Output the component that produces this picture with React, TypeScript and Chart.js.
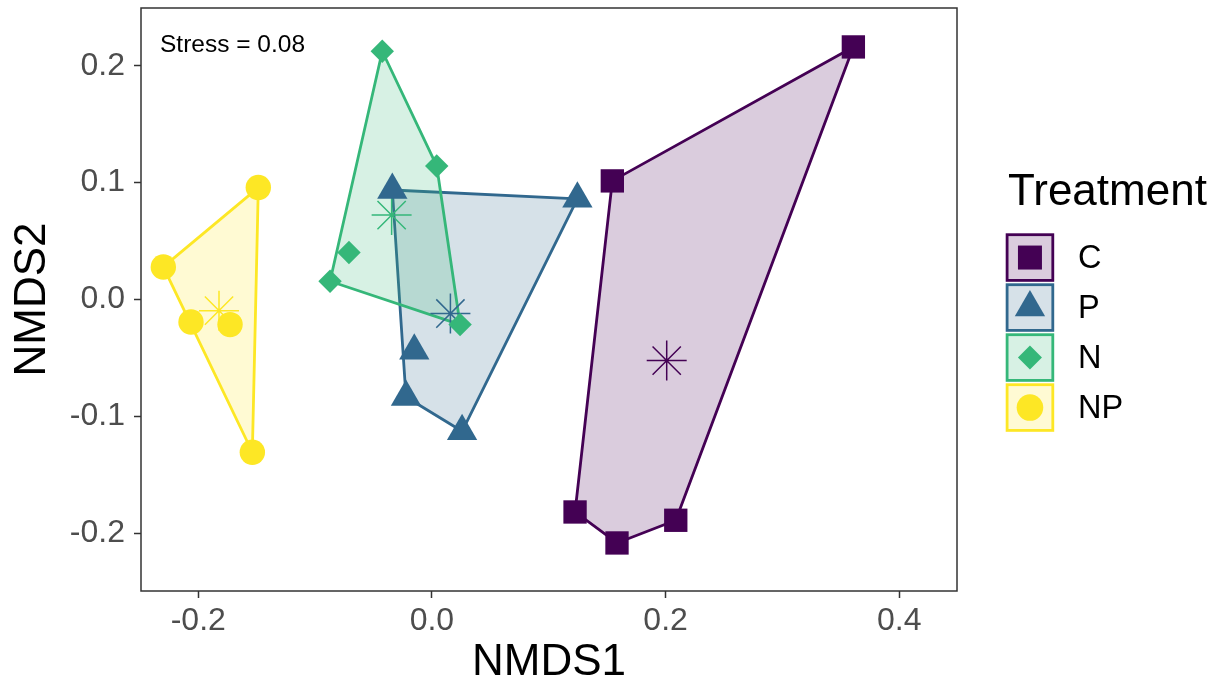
import React, { useEffect, useRef } from 'react';
import { Chart, registerables } from 'chart.js';

Chart.register(...registerables);

// ---------------- data ----------------
const treatments = ['C', 'P', 'N', 'NP'];
const colors = ['#440154', '#31688E', '#35B779', '#FDE725'];
const fills = ['rgba(68,1,84,0.2)', 'rgba(49,104,142,0.2)', 'rgba(53,183,121,0.2)', 'rgba(253,231,37,0.2)'];
const pointStyles = ['rect', 'triangle', 'rectRot', 'circle'];
const pointRadii = [16.5, 17.5, 11.7, 12.7];

const cX = [0.3607, 0.1544, 0.1225, 0.1584, 0.2087];
const cY = [0.2161, 0.1015, -0.1817, -0.2082, -0.1888];
const pX = [-0.0339, 0.1245, -0.0151, -0.0222, 0.0258];
const pY = [0.0937, 0.0862, -0.0437, -0.0833, -0.1127];
const nX = [-0.0425, 0.0041, -0.0710, -0.0872, 0.0241];
const nY = [0.2124, 0.1143, 0.0402, 0.0157, -0.0214];
const npX = [-0.1486, -0.2299, -0.2062, -0.1728, -0.1537];
const npY = [0.0958, 0.0279, -0.0192, -0.0214, -0.1306];

const groupX = [cX, pX, nX, npX];
const groupY = [cY, pY, nY, npY];

const xTicks = [-0.2, 0.0, 0.2, 0.4];
const yTicks = [-0.2, -0.1, 0.0, 0.1, 0.2];
const xMin = -0.249;
const xMax = 0.4494;
const yMin = -0.2493;
const yMax = 0.2494;

const xTitle = 'NMDS1';
const yTitle = 'NMDS2';
const legendTitle = 'Treatment';
const stressLabel = 'Stress = 0.08';

const FONT = "'Liberation Sans', Arial, Helvetica, sans-serif";

type Pt = { x: number; y: number };

function convexHull(pts: Pt[]): Pt[] {
  const p = [...pts].sort((a, b) => a.x - b.x || a.y - b.y);
  const cross = (o: Pt, a: Pt, b: Pt) => (a.x - o.x) * (b.y - o.y) - (a.y - o.y) * (b.x - o.x);
  const lower: Pt[] = [];
  for (const q of p) {
    while (lower.length >= 2 && cross(lower[lower.length - 2], lower[lower.length - 1], q) <= 0) lower.pop();
    lower.push(q);
  }
  const upper: Pt[] = [];
  for (let i = p.length - 1; i >= 0; i--) {
    const q = p[i];
    while (upper.length >= 2 && cross(upper[upper.length - 2], upper[upper.length - 1], q) <= 0) upper.pop();
    upper.push(q);
  }
  lower.pop();
  upper.pop();
  const h = lower.concat(upper);
  return [...h, h[0]];
}

function drawMarker(ctx: CanvasRenderingContext2D, style: string, cx: number, cy: number, color: string) {
  ctx.fillStyle = color;
  ctx.beginPath();
  if (style === 'rect') {
    ctx.rect(cx - 12, cy - 12, 24, 24);
  } else if (style === 'triangle') {
    const r = 17.5;
    ctx.moveTo(cx, cy - r);
    ctx.lineTo(cx + r * Math.sin((2 * Math.PI) / 3), cy + r / 2);
    ctx.lineTo(cx - r * Math.sin((2 * Math.PI) / 3), cy + r / 2);
    ctx.closePath();
  } else if (style === 'rectRot') {
    const r = 12;
    ctx.moveTo(cx - r, cy);
    ctx.lineTo(cx, cy - r);
    ctx.lineTo(cx + r, cy);
    ctx.lineTo(cx, cy + r);
    ctx.closePath();
  } else {
    ctx.arc(cx, cy, 13.3, 0, Math.PI * 2);
  }
  ctx.fill();
}

const overlayPlugin = {
  id: 'overlay',
  afterDatasetsDraw(chart: any) {
    const { ctx, chartArea: a } = chart;
    ctx.save();
    // panel border
    ctx.strokeStyle = '#333333';
    ctx.lineWidth = 1.5;
    ctx.strokeRect(a.left, a.top, a.right - a.left, a.bottom - a.top);
    // stress annotation
    ctx.fillStyle = '#000000';
    ctx.font = `24.5px ${FONT}`;
    ctx.textAlign = 'left';
    ctx.textBaseline = 'alphabetic';
    ctx.fillText(stressLabel, a.left + 19, a.top + 43.5);
    ctx.restore();
  },
  afterDraw(chart: any) {
    const { ctx } = chart;
    ctx.save();
    ctx.fillStyle = '#000000';
    ctx.font = `44px ${FONT}`;
    ctx.textAlign = 'left';
    ctx.textBaseline = 'alphabetic';
    ctx.fillText(legendTitle, 1008, 205);
    const keyLeft = 1005.7;
    const keySize = 48.5;
    treatments.forEach((t, i) => {
      const top = 233.3 + 50 * i;
      const lw = 2.8;
      ctx.fillStyle = '#ffffff';
      ctx.fillRect(keyLeft, top, keySize, keySize);
      ctx.fillStyle = fills[i];
      ctx.fillRect(keyLeft + lw / 2, top + lw / 2, keySize - lw, keySize - lw);
      ctx.strokeStyle = colors[i];
      ctx.lineWidth = lw;
      ctx.strokeRect(keyLeft + lw / 2, top + lw / 2, keySize - lw, keySize - lw);
      const cx = keyLeft + keySize / 2;
      const cy = top + keySize / 2;
      drawMarker(ctx, pointStyles[i], cx, cy, colors[i]);
      ctx.fillStyle = '#000000';
      ctx.font = `32.5px ${FONT}`;
      ctx.textAlign = 'left';
      ctx.textBaseline = 'middle';
      ctx.fillText(t, 1078, cy + 1);
    });
    ctx.restore();
  },
};

export default function App() {
  const ref = useRef<HTMLCanvasElement | null>(null);

  useEffect(() => {
    document.body.style.margin = '0';
    if (!ref.current) return;
    Chart.defaults.font.family = FONT;

    const groups = treatments.map((t, i) =>
      groupX[i].map((x, j) => ({ x, y: groupY[i][j] }))
    );
    const centroids = groups.map((g) => ({
      x: g.reduce((s, p) => s + p.x, 0) / g.length,
      y: g.reduce((s, p) => s + p.y, 0) / g.length,
    }));

    const hullSets = groups.map((g, i) => ({
      type: 'line' as const,
      label: treatments[i] + ' hull',
      data: convexHull(g),
      borderColor: colors[i],
      backgroundColor: fills[i],
      borderWidth: 2.8,
      fill: 'shape',
      pointRadius: 0,
      tension: 0,
      borderJoinStyle: 'round' as const,
      order: 40 - i,
    }));
    const centroidSets = centroids.map((c, i) => ({
      type: 'scatter' as const,
      label: treatments[i] + ' centroid',
      data: [c],
      pointStyle: 'star',
      pointRadius: 20,
      borderColor: colors[i],
      backgroundColor: colors[i],
      borderWidth: 1.5,
      order: 20 - i,
    }));
    const pointSets = groups.map((g, i) => ({
      type: 'scatter' as const,
      label: treatments[i],
      data: g,
      pointStyle: pointStyles[i],
      pointRadius: pointRadii[i],
      backgroundColor: colors[i],
      borderColor: colors[i],
      borderWidth: 0,
      order: 10 - i,
    }));

    const chart = new Chart(ref.current, {
      type: 'scatter',
      data: { datasets: [...hullSets, ...centroidSets, ...pointSets] as any },
      options: {
        animation: false,
        responsive: false,
        events: [],
        layout: { autoPadding: false, padding: { top: 8, right: 269, bottom: 0, left: 0 } },
        plugins: {
          legend: { display: false },
          tooltip: { enabled: false },
        },
        scales: {
          x: {
            type: 'linear',
            min: xMin,
            max: xMax,
            afterBuildTicks: (s: any) => {
              s.ticks = xTicks.map((v) => ({ value: v }));
            },
            afterFit: (s: any) => {
              s.height = 96;
              s.paddingLeft = 0;
              s.paddingRight = 0;
              s.paddingTop = 0;
              s.paddingBottom = 0;
            },
            border: { display: false },
            grid: {
              drawOnChartArea: false,
              drawTicks: true,
              tickLength: 7,
              tickColor: '#333333',
              tickWidth: 1.5,
              color: '#333333',
            },
            ticks: {
              color: '#4D4D4D',
              font: { size: 32 },
              padding: 4,
              maxRotation: 0,
              autoSkip: false,
              callback: (v: any) => Number(v).toFixed(1),
            },
            title: {
              display: true,
              text: xTitle,
              color: '#000000',
              font: { size: 44 },
              padding: { top: 0, bottom: -2 },
            },
          },
          y: {
            type: 'linear',
            min: yMin,
            max: yMax,
            afterBuildTicks: (s: any) => {
              s.ticks = yTicks.map((v) => ({ value: v }));
            },
            afterFit: (s: any) => {
              s.width = 141;
              s.paddingLeft = 0;
              s.paddingRight = 0;
              s.paddingTop = 0;
              s.paddingBottom = 0;
            },
            border: { display: false },
            grid: {
              drawOnChartArea: false,
              drawTicks: true,
              tickLength: 7,
              tickColor: '#333333',
              tickWidth: 1.5,
              color: '#333333',
            },
            ticks: {
              color: '#4D4D4D',
              font: { size: 32 },
              padding: 9,
              autoSkip: false,
              callback: (v: any) => Number(v).toFixed(1),
            },
            title: {
              display: true,
              text: yTitle,
              color: '#000000',
              font: { size: 44 },
              padding: { top: 6, bottom: 0 },
            },
          },
        },
      },
      plugins: [overlayPlugin],
    } as any);

    return () => {
      chart.destroy();
    };
  }, []);

  return (
    <canvas
      ref={ref}
      width={1226}
      height={687}
      style={{ display: 'block', width: '1226px', height: '687px' }}
    />
  );
}
